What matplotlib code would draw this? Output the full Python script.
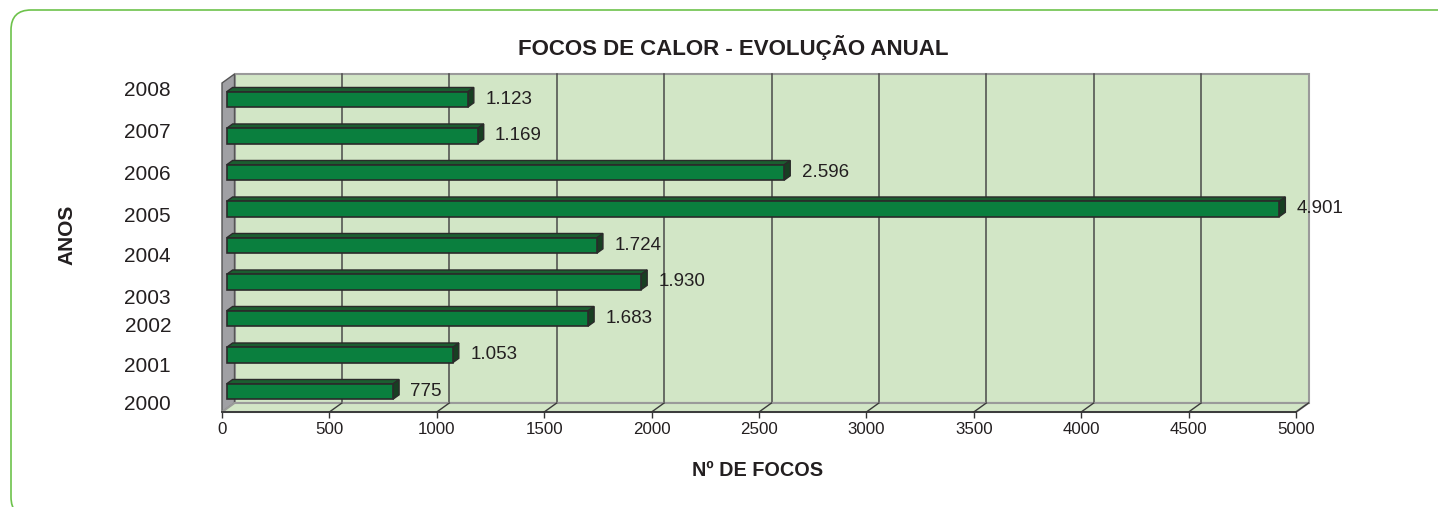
import matplotlib
matplotlib.use("Agg")
import matplotlib.pyplot as plt
from matplotlib.patches import Polygon, FancyBboxPatch
from matplotlib.transforms import IdentityTransform

plt.rcParams["font.family"] = ["Liberation Sans", "DejaVu Sans"]

# data
years = ["2000", "2001", "2002", "2003", "2004", "2005", "2006", "2007", "2008"]
focos = [775, 1053, 1683, 1930, 1724, 4901, 2596, 1169, 1123]
value_labels = ["775", "1.053", "1.683", "1.930", "1.724", "4.901", "2.596", "1.169", "1.123"]
x_ticks = [0, 500, 1000, 1500, 2000, 2500, 3000, 3500, 4000, 4500, 5000]

# layout (pixels of a 1438x507 canvas)
W, H = 1438, 507
TXT = "#231f20"
WALL = "#d2e6c6"
BAR_FRONT = "#0a7f3e"
BAR_TOP = "#1b5e30"
BAR_SIDE = "#173f22"
year_label_py = [405, 366, 327, 298, 257, 217, 175, 133, 91]

fig = plt.figure(figsize=(W / 100, H / 100), dpi=100)

# rounded green frame (bottom edge falls just below the canvas)
frame = FancyBboxPatch((11, -10), 1460, 507, boxstyle="round,pad=0,rounding_size=20",
                       transform=IdentityTransform(), facecolor="none",
                       edgecolor="#6dc24b", linewidth=1.2)
fig.add_artist(frame)

ax = fig.add_axes([222 / W, 1 - 412 / H, 1074 / W, 329 / H])
ax.patch.set_visible(False)
XMAX = 5000
YB, YT = -0.471, 8.542
ax.set_xlim(0, XMAX)
ax.set_ylim(YB, YT)

# oblique depth, converted from pixels into data units
px_x = XMAX / 1074
px_y = (YT - YB) / 329
DXD = 12.5 * px_x
DYD = 9.0 * px_y


def proj(x, y, d):
    return (x + d * DXD, y + d * DYD)


def face(pts, fc, ec, lw=1.0, z=1):
    ax.add_patch(Polygon(pts, closed=True, facecolor=fc, edgecolor=ec,
                         linewidth=lw, zorder=z, clip_on=False))


# walls
face([proj(0, YB, 1), proj(XMAX, YB, 1), proj(XMAX, YT, 1), proj(0, YT, 1)],
     WALL, "#9a9a9a", 1.5, 1)
face([proj(0, YB, 0), proj(0, YT, 0), proj(0, YT, 1), proj(0, YB, 1)],
     "#a0a0a4", "#555555", 1.0, 2)
face([proj(0, YB, 0), proj(XMAX, YB, 0), proj(XMAX, YB, 1), proj(0, YB, 1)],
     WALL, "#9a9a9a", 1.5, 2)

# gridlines on back wall and floor
for xv in x_ticks[1:]:
    if xv < XMAX:
        xs, ys = zip(proj(xv, YB, 1), proj(xv, YT, 1))
        ax.plot(xs, ys, color="#4a4a4a", lw=1.1, zorder=1.5, clip_on=False)
    xs, ys = zip(proj(xv, YB, 0), proj(xv, YB, 1))
    ax.plot(xs, ys, color="#3a3a3a", lw=1.0, zorder=2.5, clip_on=False)

# bars
f0, f1 = 0.37, 0.85
h = 0.42
for i, v in enumerate(focos):
    lo, hi = i - h / 2, i + h / 2
    face([proj(0, hi, f0), proj(v, hi, f0), proj(v, hi, f1), proj(0, hi, f1)],
         BAR_TOP, "#2a2a2a", 1.0, 3)
    face([proj(v, lo, f0), proj(v, hi, f0), proj(v, hi, f1), proj(v, lo, f1)],
         BAR_SIDE, "#2a2a2a", 1.0, 3)
    face([proj(0, lo, f0), proj(v, lo, f0), proj(v, hi, f0), proj(0, hi, f0)],
         BAR_FRONT, "#2a2a2a", 1.2, 4)
    ax.annotate(value_labels[i], xy=proj(v, i, f0), xytext=(12.5, 0),
                textcoords="offset points", va="center", ha="left",
                fontsize=13.5, color=TXT, zorder=5, annotation_clip=False)

# axes styling
for side in ["left", "right", "top"]:
    ax.spines[side].set_visible(False)
ax.spines["bottom"].set_color("#333333")
ax.spines["bottom"].set_linewidth(1.3)
ax.spines["bottom"].set_zorder(2.6)
ax.set_xticks(x_ticks)
ax.set_xticklabels([str(t) for t in x_ticks])
ax.tick_params(axis="x", direction="out", length=4.5, width=1, color="#333333",
               labelsize=12.2, labelcolor=TXT, pad=3)
ax.set_yticks([])

# year labels
for yr, py in zip(years, year_label_py):
    fig.text(171 / W, 1 - py / H, yr, ha="right", va="center", fontsize=15, color=TXT)

fig.text(733 / W, 1 - 48 / H, "FOCOS DE CALOR - EVOLUÇÃO ANUAL", ha="center",
         va="center", fontsize=16, fontweight="bold", color=TXT)
fig.text(67 / W, 1 - 235 / H, "ANOS", ha="center", va="center", rotation=90,
         fontsize=15, fontweight="bold", color=TXT)
fig.text(758 / W, 1 - 470 / H, "Nº DE FOCOS", ha="center", va="center",
         fontsize=14.3, fontweight="bold", color=TXT)

fig.savefig("out.png", dpi=100)
